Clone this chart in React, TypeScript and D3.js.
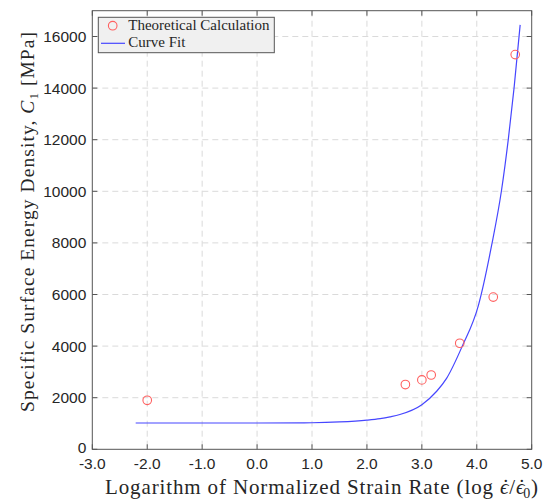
import React from 'react';
import * as d3 from 'd3';

// theoretical calculation points (log strain rate, C1 in MPa)
const theoryX = [-2.0, 2.7, 3.0, 3.17, 3.69, 4.3, 4.7];
const theoryY = [1900, 2510, 2690, 2880, 4110, 5900, 15300];

// curve fit, sampled off the plot
const fitX = [-2.21, -1.0, 0.0, 1.0, 1.5, 2.0, 2.24, 2.42, 2.6, 3.0, 3.27, 3.45, 3.73, 4.03, 4.27, 4.45, 4.575, 4.68, 4.79];
const fitY = [1020, 1020, 1020, 1030, 1060, 1130, 1190, 1260, 1350, 1730, 2250, 2750, 3970, 5580, 7900, 10030, 12030, 14030, 16450];

const xTicks = [-3, -2, -1, 0, 1, 2, 3, 4, 5];
const yTicks = [0, 2000, 4000, 6000, 8000, 10000, 12000, 14000, 16000];

const serif = "'Liberation Serif', 'DejaVu Serif', serif";
const sans = "'Liberation Sans', Arial, sans-serif";

export default function App() {
  const width = 547;
  const height = 500;
  const left = 92.3;
  const right = 531.7;
  const top = 10.7;
  const bottom = 449.3;

  const x = d3.scaleLinear().domain([-3, 5]).range([left, right]);
  const y = d3.scaleLinear().domain([0, 17000]).range([bottom, top]);

  const fit = fitX.map((v, i) => [v, fitY[i]] as [number, number]);
  const line = d3
    .line<[number, number]>()
    .x((d) => x(d[0]))
    .y((d) => y(d[1]))
    .curve(d3.curveMonotoneX);

  const axisColor = '#555';
  const tick = 5;

  return (
    <svg width={width} height={height} style={{ position: 'absolute', left: 0, top: 0 }}>
      <rect x={0} y={0} width={width} height={height} fill="#fff" />

      {/* grid */}
      {xTicks.slice(1, -1).map((t) => (
        <line key={'gx' + t} x1={x(t)} x2={x(t)} y1={top} y2={bottom} stroke="#dadada" strokeDasharray="6,4" />
      ))}
      {yTicks.slice(1).map((t) => (
        <line key={'gy' + t} x1={left} x2={right} y1={y(t)} y2={y(t)} stroke="#dadada" strokeDasharray="6,4" />
      ))}

      {/* box + ticks */}
      <rect x={left} y={top} width={right - left} height={bottom - top} fill="none" stroke={axisColor} strokeWidth={1} />
      {xTicks.map((t) => (
        <g key={'tx' + t}>
          <line x1={x(t)} x2={x(t)} y1={bottom} y2={bottom - tick} stroke={axisColor} />
          <line x1={x(t)} x2={x(t)} y1={top} y2={top + tick} stroke={axisColor} />
          <text x={x(t)} y={469} textAnchor="middle" fontFamily={sans} fontSize={15.5} fill="#262626">
            {t.toFixed(1)}
          </text>
        </g>
      ))}
      {yTicks.map((t) => (
        <g key={'ty' + t}>
          <line x1={left} x2={left + tick} y1={y(t)} y2={y(t)} stroke={axisColor} />
          <line x1={right} x2={right - tick} y1={y(t)} y2={y(t)} stroke={axisColor} />
          <text
            x={left - 6}
            y={y(t) - (t === 0 ? 1.5 : 0)}
            dy="0.36em"
            textAnchor="end"
            fontFamily={sans}
            fontSize={15.5}
            fill="#262626"
          >
            {t}
          </text>
        </g>
      ))}

      {/* curve fit */}
      <path d={line(fit) || ''} fill="none" stroke="#4646ff" strokeWidth={1.2} />

      {/* theoretical points */}
      {theoryX.map((v, i) => (
        <circle key={'p' + i} cx={x(v)} cy={y(theoryY[i])} r={4.3} fill="none" stroke="#ff6060" strokeWidth={1.1} />
      ))}

      {/* legend */}
      <rect x={98.3} y={17.3} width={176} height={35.4} fill="#f0f0f0" stroke="#555" strokeWidth={1} />
      <circle cx={112.7} cy={25.7} r={4.3} fill="none" stroke="#ff6060" strokeWidth={1.1} />
      <text x={128.3} y={30} fontFamily={serif} fontSize={15} fill="#262626">
        Theoretical Calculation
      </text>
      <line x1={101} x2={125} y1={43.3} y2={43.3} stroke="#4646ff" strokeWidth={1.2} />
      <text x={128.3} y={46.5} fontFamily={serif} fontSize={15} fill="#262626">
        Curve Fit
      </text>

      {/* axis labels */}
      <text
        x={105}
        y={494}
        fontFamily={serif}
        fontSize={21}
        fill="#262626"
        textLength={433}
        lengthAdjust="spacing"
      >
        Logarithm of Normalized Strain Rate (log{' '}
        <tspan fontStyle="italic">ϵ</tspan>
        <tspan dx={-7}>˙</tspan>
        <tspan dx={-1}>/</tspan>
        <tspan fontStyle="italic">ϵ</tspan>
        <tspan dx={-7}>˙</tspan>
        <tspan dx={-3} dy={4} fontSize={14}>0</tspan>
        <tspan dy={-4}>)</tspan>
      </text>
      <text
        transform="translate(34,412) rotate(-90)"
        fontFamily={serif}
        fontSize={19.5}
        fill="#262626"
        textLength={380}
        lengthAdjust="spacing"
      >
        Specific Surface Energy Density, <tspan fontStyle="italic">C</tspan>
        <tspan dy={4} fontSize={13}>1</tspan>
        <tspan dy={-4}> [MPa]</tspan>
      </text>
    </svg>
  );
}
